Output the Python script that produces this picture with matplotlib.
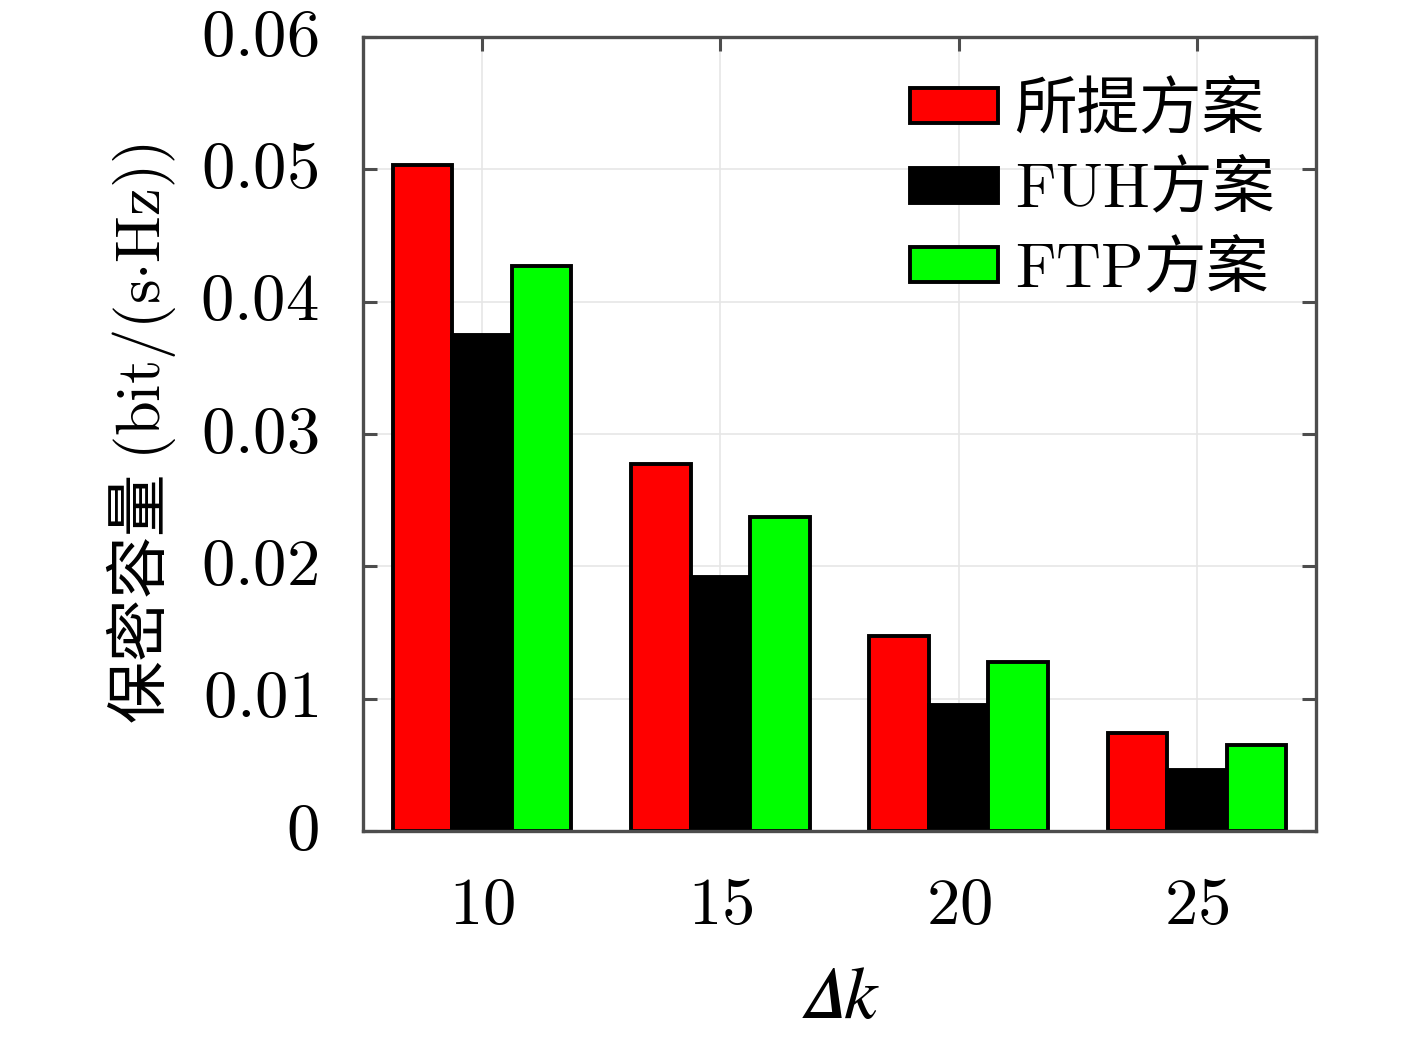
import numpy as np
import matplotlib.pyplot as plt

plt.rcParams['font.family'] = ['Noto Sans CJK SC', 'DejaVu Sans']
plt.rcParams['mathtext.fontset'] = 'cm'
plt.rcParams['ytick.alignment'] = 'center'

# data
dk = [10, 15, 20, 25]
proposed = [0.0503, 0.0277, 0.0147, 0.0074]
fuh = [0.0375, 0.0192, 0.0095, 0.0046]
ftp = [0.0427, 0.0237, 0.0128, 0.0065]
yticks = [0, 0.01, 0.02, 0.03, 0.04, 0.05, 0.06]
labels = ['所提方案', '$\\mathrm{FUH}$方案', '$\\mathrm{FTP}$方案']
colors = ['#ff0000', '#000000', '#00ff00']

fig = plt.figure(figsize=(14.17, 10.39), dpi=100)
ax = fig.add_axes([0.2562, 0.2002, 0.6725, 0.7642])

x = np.arange(len(dk))
w = 0.25
for i, (vals, c, lab) in enumerate(zip([proposed, fuh, ftp], colors, labels)):
    ax.bar(x + (i - 1) * w, vals, w, color=c, edgecolor='k', linewidth=2.8,
           label=lab, zorder=2)

ax.set_xlim(-0.5, len(dk) - 0.5)
ax.set_ylim(0, 0.06)
ax.set_xticks(x)
ax.set_xticklabels([f'${v}$' for v in dk])
ax.set_yticks(yticks)
ax.set_yticklabels(['$0$'] + [f'${v:.2f}$' for v in yticks[1:]])

ax.tick_params(direction='in', length=10, width=2.2, color='#4d4d4d',
               top=True, right=True, labelsize=48)
ax.tick_params(axis='x', pad=29)
ax.tick_params(axis='y', pad=32)
ax.grid(True, color='#e6e6e6', linewidth=1.2)
ax.set_axisbelow(True)
for s in ax.spines.values():
    s.set_color('#4d4d4d')
    s.set_linewidth(2.4)

ax.set_ylabel('保密容量 $(\\mathrm{bit/(s{\\cdot}Hz)})$', fontsize=45, labelpad=16)
# italic capital delta (U+1D6E5) from STIX
ax.set_xlabel('$\U0001D6E5 k$', fontsize=54, labelpad=14,
              math_fontfamily='stix')

ax.legend(loc='upper left', bbox_to_anchor=(0.548, 0.98), frameon=False,
          fontsize=45, handlelength=1.4, handleheight=0.48, handletextpad=0.27,
          labelspacing=0.25, borderaxespad=0)

fig.savefig('out.png', dpi=100)
